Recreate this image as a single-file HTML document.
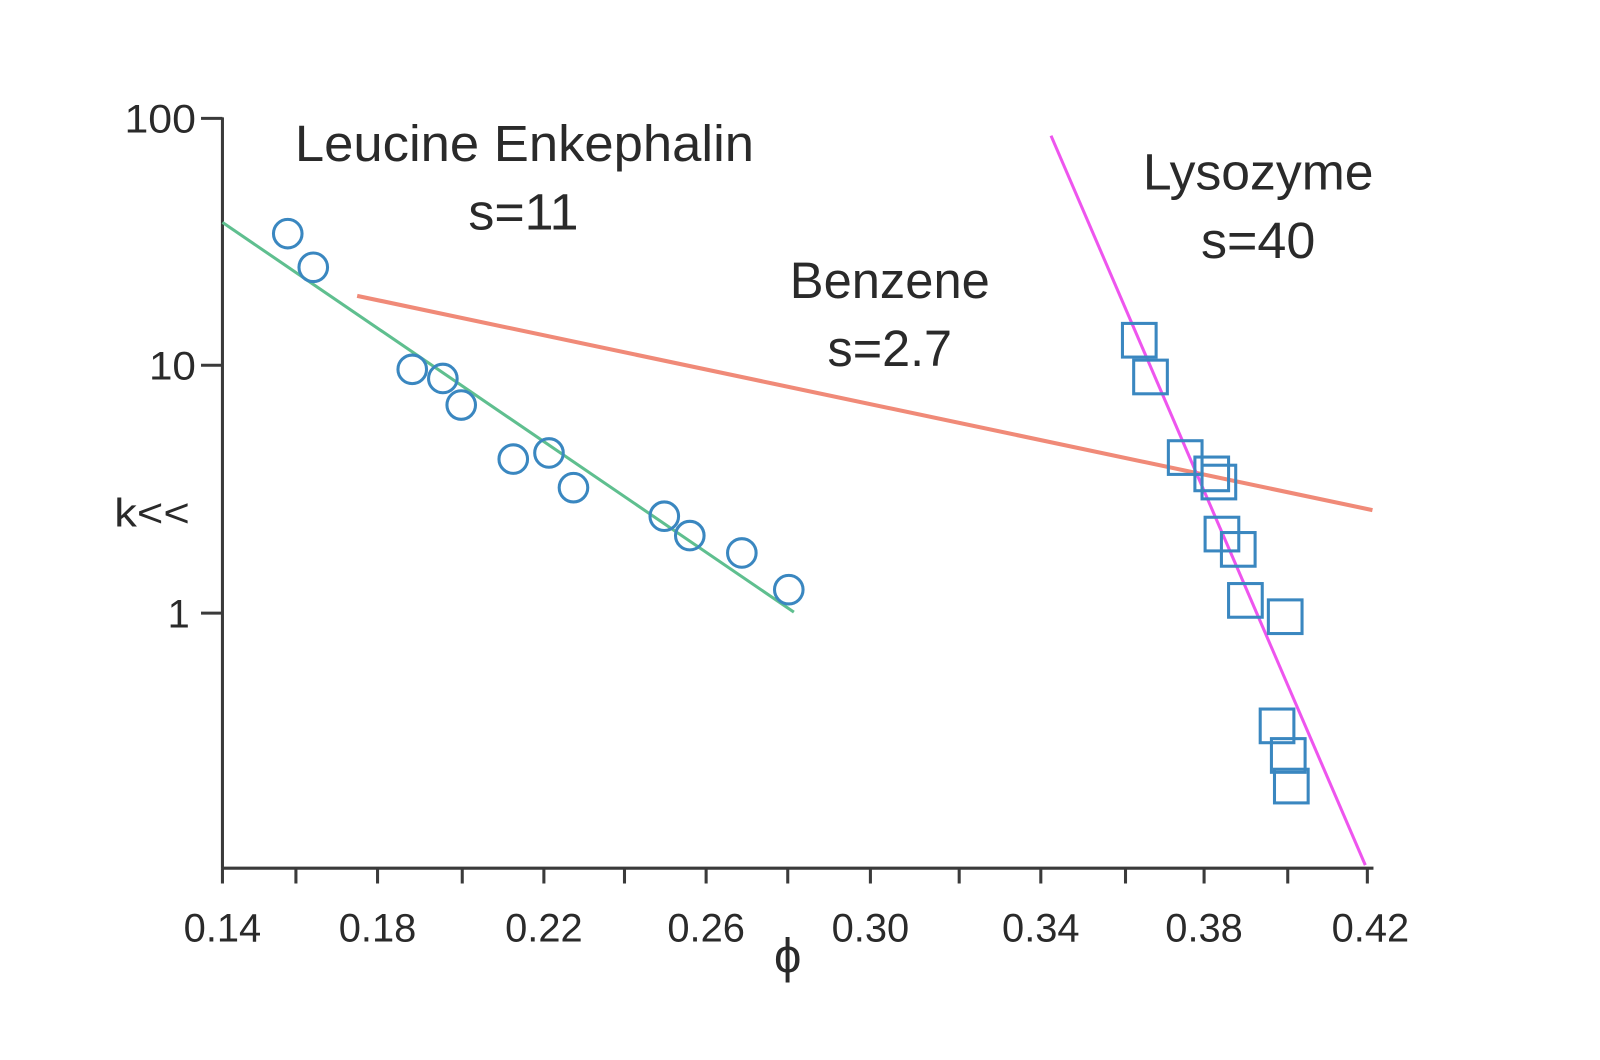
<!DOCTYPE html>
<html><head><meta charset="utf-8"><style>
html,body{margin:0;padding:0;background:#fff;}
svg{display:block;}
text{font-family:"Liberation Sans",sans-serif;fill:#2a2a2a;}
</style></head><body>
<svg width="1600" height="1060" viewBox="0 0 1568 1039" preserveAspectRatio="none" xmlns="http://www.w3.org/2000/svg">
<rect width="1568" height="1039" fill="#fff"/>
<g stroke="#3a3a3a" stroke-width="3" fill="none">
<line x1="218" y1="115" x2="218" y2="851"/>
<line x1="217" y1="851" x2="1346" y2="851"/>
<line x1="197" y1="116" x2="218" y2="116"/>
<line x1="197" y1="358" x2="218" y2="358"/>
<line x1="197" y1="601" x2="218" y2="601"/>
<line x1="218" y1="851" x2="218" y2="866"/>
<line x1="290" y1="851" x2="290" y2="866"/>
<line x1="370" y1="851" x2="370" y2="866"/>
<line x1="453" y1="851" x2="453" y2="866"/>
<line x1="533" y1="851" x2="533" y2="866"/>
<line x1="612" y1="851" x2="612" y2="866"/>
<line x1="692" y1="851" x2="692" y2="866"/>
<line x1="772" y1="851" x2="772" y2="866"/>
<line x1="853" y1="851" x2="853" y2="866"/>
<line x1="940" y1="851" x2="940" y2="866"/>
<line x1="1020" y1="851" x2="1020" y2="866"/>
<line x1="1103" y1="851" x2="1103" y2="866"/>
<line x1="1180" y1="851" x2="1180" y2="866"/>
<line x1="1262" y1="851" x2="1262" y2="866"/>
<line x1="1340" y1="851" x2="1340" y2="866"/>
</g>
<line x1="218" y1="218" x2="778" y2="600" stroke="#5fbf8f" stroke-width="3"/>
<line x1="350" y1="290" x2="1345" y2="500" stroke="#f08a78" stroke-width="4"/>
<line x1="1030" y1="133" x2="1338" y2="848" stroke="#ee55ee" stroke-width="3"/>
<g stroke="#3a87c0" stroke-width="3" fill="none">
<circle cx="282" cy="229" r="14"/><circle cx="307" cy="262" r="14"/>
<circle cx="404" cy="362" r="14"/><circle cx="434" cy="371" r="14"/>
<circle cx="452" cy="397" r="14"/><circle cx="503" cy="450" r="14"/>
<circle cx="538" cy="444" r="14"/><circle cx="562" cy="478" r="14"/>
<circle cx="651" cy="506" r="14"/><circle cx="676" cy="525" r="14"/>
<circle cx="727" cy="542" r="14"/><circle cx="773" cy="578" r="14"/>
</g>
<g stroke="#3a87c0" stroke-width="3" fill="none">
<rect x="1100" y="317" width="33" height="33"/><rect x="1111" y="353" width="33" height="33"/>
<rect x="1145" y="432" width="33" height="33"/><rect x="1171" y="448" width="33" height="33"/>
<rect x="1178" y="456" width="33" height="33"/><rect x="1181" y="507" width="33" height="33"/>
<rect x="1197" y="522" width="33" height="33"/><rect x="1204" y="572" width="33" height="33"/>
<rect x="1243" y="588" width="33" height="33"/><rect x="1235" y="695" width="33" height="33"/>
<rect x="1246" y="724" width="33" height="33"/><rect x="1249" y="754" width="33" height="33"/>
</g>
<g font-size="50" text-anchor="middle">
<text x="514" y="158" textLength="450" lengthAdjust="spacingAndGlyphs">Leucine Enkephalin</text>
<text x="513" y="225" textLength="108" lengthAdjust="spacingAndGlyphs">s=11</text>
<text x="872" y="292" textLength="196" lengthAdjust="spacingAndGlyphs">Benzene</text>
<text x="872" y="359" textLength="122" lengthAdjust="spacingAndGlyphs">s=2.7</text>
<text x="1233" y="186" textLength="226" lengthAdjust="spacingAndGlyphs">Lysozyme</text>
<text x="1233" y="253" textLength="112" lengthAdjust="spacingAndGlyphs">s=40</text>
</g>
<g font-size="39" text-anchor="end">
<text x="192" y="130" textLength="70" lengthAdjust="spacingAndGlyphs">100</text>
<text x="192" y="372" textLength="46" lengthAdjust="spacingAndGlyphs">10</text>
<text x="186" y="615">1</text>
<text x="186" y="516" textLength="74" lengthAdjust="spacingAndGlyphs">k&lt;&lt;</text>
</g>
<g font-size="39" text-anchor="middle">
<text x="218" y="923" textLength="76" lengthAdjust="spacingAndGlyphs">0.14</text>
<text x="370" y="923" textLength="76" lengthAdjust="spacingAndGlyphs">0.18</text>
<text x="533" y="923" textLength="76" lengthAdjust="spacingAndGlyphs">0.22</text>
<text x="692" y="923" textLength="76" lengthAdjust="spacingAndGlyphs">0.26</text>
<text x="853" y="923" textLength="76" lengthAdjust="spacingAndGlyphs">0.30</text>
<text x="1020" y="923" textLength="76" lengthAdjust="spacingAndGlyphs">0.34</text>
<text x="1180" y="923" textLength="76" lengthAdjust="spacingAndGlyphs">0.38</text>
<text x="1343" y="923" textLength="76" lengthAdjust="spacingAndGlyphs">0.42</text>
<text x="772" y="953" font-size="48">ϕ</text>
</g>
</svg>
</body></html>
